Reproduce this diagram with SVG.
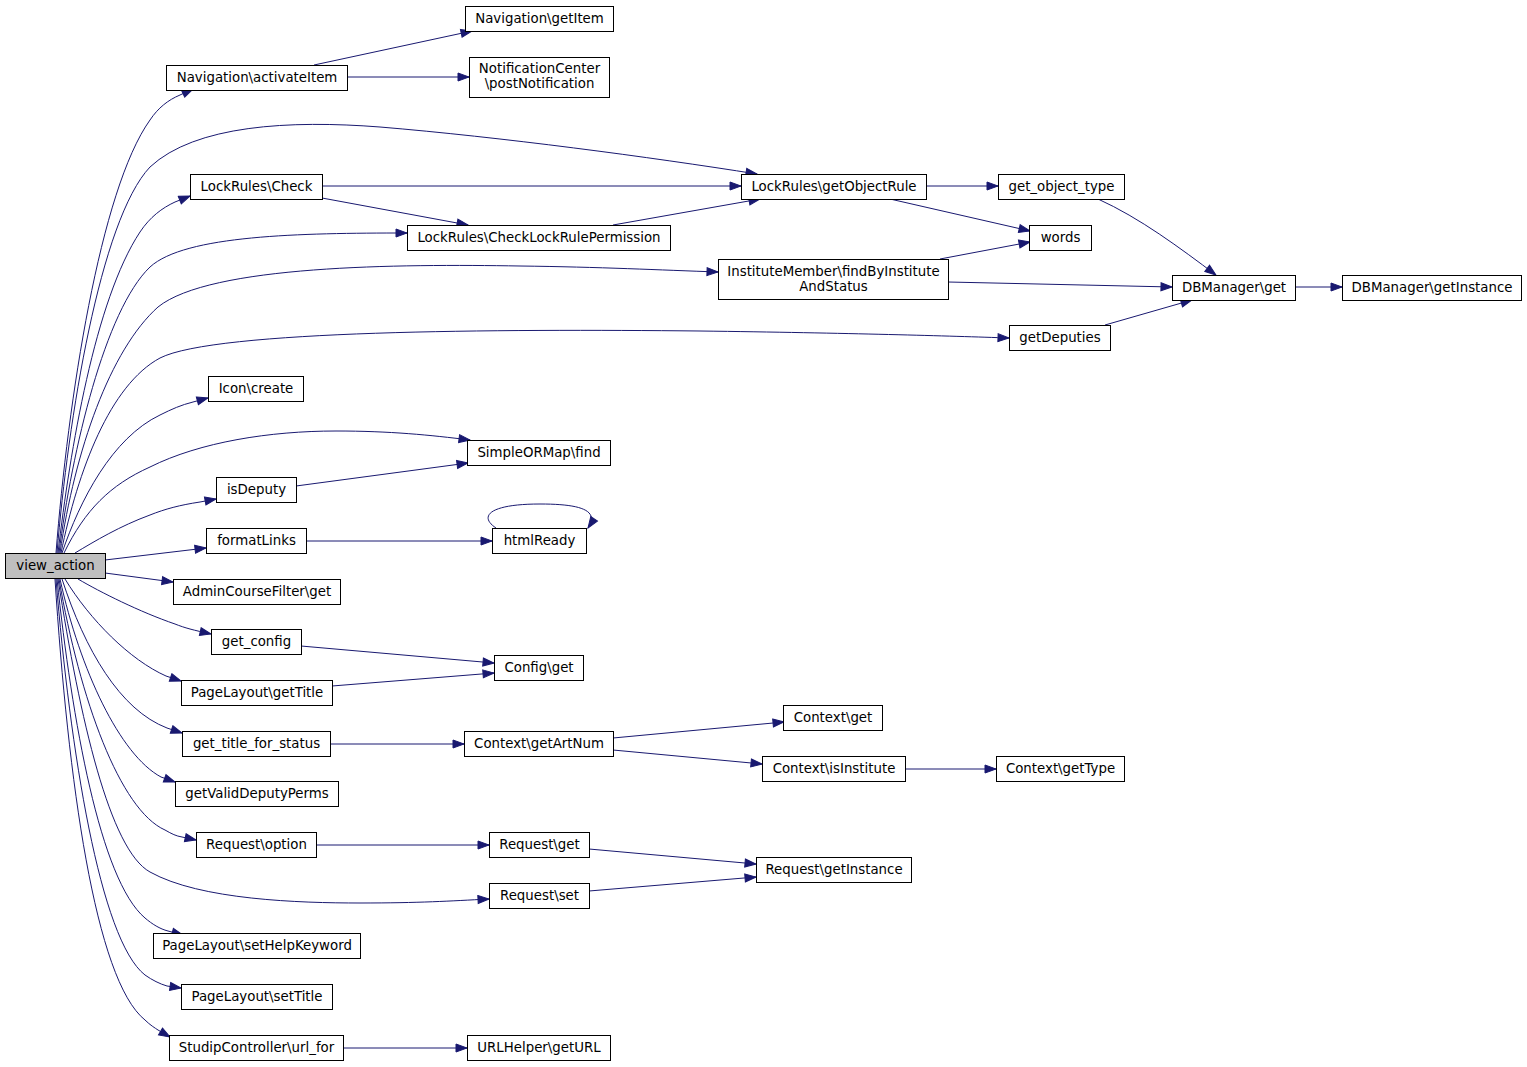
<svg xmlns="http://www.w3.org/2000/svg" width="1527" height="1067" viewBox="0 0 1527 1067">
<style>
.node rect{fill:#ffffff;stroke:#000000;stroke-width:1}
.node.root rect{fill:#bfbfbf}
.node text{font-family:"DejaVu Sans",sans-serif;font-size:13.33px;text-anchor:middle;fill:#000000}
.edges path{fill:none;stroke:#191970;stroke-width:1;marker-end:url(#arr)}
</style>
<defs>
<marker id="arr" markerUnits="userSpaceOnUse" markerWidth="12" markerHeight="9" refX="11" refY="4" orient="auto" overflow="visible">
<polygon points="0,0 11,4 0,8" fill="#191970" stroke="#191970" stroke-width="1"/>
</marker>
</defs>
<rect width="1527" height="1067" fill="#ffffff"/>
<g id="edges" class="edges">
<path d="M56,553 C68,400 100,190 150,120 C158,108 168,100 180,95 L193,89"/>
<path d="M57,553 C68,420 100,220 150,167 C195,125 290,120 380,127 C500,137 650,157 757,174"/>
<path d="M58,553 C70,450 95,300 140,232 C150,217 162,208 175,202 L190,196"/>
<path d="M59,553 C72,450 105,310 150,267 C185,235 300,233 407,233"/>
<path d="M60,553 C75,450 110,350 158,307 C210,265 400,264 520,266 C600,267 660,270 718,272"/>
<path d="M61,553 C78,470 110,385 160,358 C215,330 500,329 700,331 C850,333 950,336 1009,338"/>
<path d="M62,553 C80,500 112,438 160,415 C172,409 181,405 193,402 L208,398"/>
<path d="M64,553 C85,510 110,485 150,467 C200,442 270,431 336,431 C390,431 430,435 470,440"/>
<path d="M75,553 C95,541 120,526 150,515 C165,509 180,505 200,502 L216,499"/>
<path d="M105,560 L206,548"/>
<path d="M105,573 L173,582"/>
<path d="M78,579 C100,592 140,612 175,624 C185,628 193,630 211,634"/>
<path d="M65,579 C90,620 130,660 166,676 L181,681"/>
<path d="M62,579 C85,650 120,710 167,728 L182,733"/>
<path d="M60,579 C80,670 120,755 161,777 L175,782"/>
<path d="M59,579 C80,700 120,810 165,830 C172,834 176,836 182,837 L196,840"/>
<path d="M58,579 C80,720 110,850 150,872 C200,900 300,903 360,903 C420,903 450,901 489,899"/>
<path d="M57,579 C72,720 100,880 145,918 C152,924 160,929 168,931 L183,935"/>
<path d="M56,579 C70,750 100,940 145,975 C152,980 160,984 167,986 L181,988"/>
<path d="M55,579 C68,780 95,980 145,1020 C150,1025 155,1028 158,1030 L170,1037"/>
<path d="M314,65 L472,31"/>
<path d="M347,77 L469,77"/>
<path d="M322,186 L741,186"/>
<path d="M322,198 L468,225"/>
<path d="M613,225 L760,199"/>
<path d="M926,186 L998,186"/>
<path d="M890,199 L1030,231"/>
<path d="M1098,199 C1140,218 1180,248 1216,275"/>
<path d="M940,259 L1030,242"/>
<path d="M948,282 L1172,287"/>
<path d="M1105,325 L1192,300"/>
<path d="M1295,287 L1342,287"/>
<path d="M296,486 L468,463"/>
<path d="M306,541 L492,541"/>
<path d="M496,528 C478,516 490,504 540,504 C580,504 600,510 588,528"/>
<path d="M301,646 L494,663"/>
<path d="M332,686 L494,673"/>
<path d="M330,744 L464,744"/>
<path d="M613,738 L784,722"/>
<path d="M613,750 L762,764"/>
<path d="M905,769 L996,769"/>
<path d="M316,845 L489,845"/>
<path d="M589,849 L756,864"/>
<path d="M589,891 L756,877"/>
<path d="M343,1048 L467,1048"/>
</g>
<g id="n_view_action" class="node root"><rect x="5.5" y="553.5" width="100" height="25"/><text x="55.5" y="569.5">view_action</text></g>
<g id="n_activateItem" class="node"><rect x="166.5" y="65.5" width="181" height="25"/><text x="257" y="81.5">Navigation\activateItem</text></g>
<g id="n_getItem" class="node"><rect x="465.5" y="6.5" width="148" height="25"/><text x="539.5" y="22.5">Navigation\getItem</text></g>
<g id="n_postNotification" class="node"><rect x="469.5" y="57.5" width="140" height="40"/><text x="539.5" y="72.5">NotificationCenter</text><text x="539.5" y="87.5">\postNotification</text></g>
<g id="n_check" class="node"><rect x="190.5" y="174.5" width="132" height="25"/><text x="256.5" y="190.5">LockRules\Check</text></g>
<g id="n_getObjectRule" class="node"><rect x="741.5" y="174.5" width="185" height="25"/><text x="834" y="190.5">LockRules\getObjectRule</text></g>
<g id="n_checkLockRulePermission" class="node"><rect x="407.5" y="225.5" width="263" height="25"/><text x="539" y="241.5">LockRules\CheckLockRulePermission</text></g>
<g id="n_get_object_type" class="node"><rect x="998.5" y="174.5" width="126" height="25"/><text x="1061.5" y="190.5">get_object_type</text></g>
<g id="n_words" class="node"><rect x="1029.5" y="225.5" width="62" height="25"/><text x="1060.5" y="241.5">words</text></g>
<g id="n_instituteMember" class="node"><rect x="718.5" y="259.5" width="230" height="40"/><text x="833.5" y="275.5">InstituteMember\findByInstitute</text><text x="833.5" y="290.5">AndStatus</text></g>
<g id="n_dbget" class="node"><rect x="1172.5" y="275.5" width="123" height="25"/><text x="1234" y="291.5">DBManager\get</text></g>
<g id="n_dbgetInstance" class="node"><rect x="1342.5" y="275.5" width="179" height="25"/><text x="1432" y="291.5">DBManager\getInstance</text></g>
<g id="n_getDeputies" class="node"><rect x="1009.5" y="325.5" width="101" height="25"/><text x="1060" y="341.5">getDeputies</text></g>
<g id="n_iconCreate" class="node"><rect x="208.5" y="376.5" width="95" height="25"/><text x="256" y="392.5">Icon\create</text></g>
<g id="n_simpleORMapFind" class="node"><rect x="467.5" y="440.5" width="143" height="25"/><text x="539" y="456.5">SimpleORMap\find</text></g>
<g id="n_isDeputy" class="node"><rect x="216.5" y="477.5" width="80" height="25"/><text x="256.5" y="493.5">isDeputy</text></g>
<g id="n_formatLinks" class="node"><rect x="206.5" y="528.5" width="100" height="25"/><text x="256.5" y="544.5">formatLinks</text></g>
<g id="n_htmlReady" class="node"><rect x="492.5" y="528.5" width="94" height="25"/><text x="539.5" y="544.5">htmlReady</text></g>
<g id="n_adminCourseFilter" class="node"><rect x="173.5" y="579.5" width="167" height="25"/><text x="257" y="595.5">AdminCourseFilter\get</text></g>
<g id="n_get_config" class="node"><rect x="211.5" y="629.5" width="90" height="25"/><text x="256.5" y="645.5">get_config</text></g>
<g id="n_configGet" class="node"><rect x="494.5" y="655.5" width="89" height="25"/><text x="539" y="671.5">Config\get</text></g>
<g id="n_getTitle" class="node"><rect x="181.5" y="680.5" width="151" height="25"/><text x="257" y="696.5">PageLayout\getTitle</text></g>
<g id="n_get_title_for_status" class="node"><rect x="182.5" y="731.5" width="148" height="25"/><text x="256.5" y="747.5">get_title_for_status</text></g>
<g id="n_getArtNum" class="node"><rect x="464.5" y="731.5" width="149" height="25"/><text x="539" y="747.5">Context\getArtNum</text></g>
<g id="n_contextGet" class="node"><rect x="783.5" y="705.5" width="99" height="25"/><text x="833" y="721.5">Context\get</text></g>
<g id="n_isInstitute" class="node"><rect x="762.5" y="756.5" width="143" height="25"/><text x="834" y="772.5">Context\isInstitute</text></g>
<g id="n_getType" class="node"><rect x="996.5" y="756.5" width="128" height="25"/><text x="1060.5" y="772.5">Context\getType</text></g>
<g id="n_getValidDeputyPerms" class="node"><rect x="175.5" y="781.5" width="163" height="25"/><text x="257" y="797.5">getValidDeputyPerms</text></g>
<g id="n_requestOption" class="node"><rect x="196.5" y="832.5" width="120" height="25"/><text x="256.5" y="848.5">Request\option</text></g>
<g id="n_requestGet" class="node"><rect x="489.5" y="832.5" width="100" height="25"/><text x="539.5" y="848.5">Request\get</text></g>
<g id="n_requestGetInstance" class="node"><rect x="756.5" y="857.5" width="155" height="25"/><text x="834" y="873.5">Request\getInstance</text></g>
<g id="n_requestSet" class="node"><rect x="489.5" y="883.5" width="100" height="25"/><text x="539.5" y="899.5">Request\set</text></g>
<g id="n_setHelpKeyword" class="node"><rect x="153.5" y="933.5" width="207" height="25"/><text x="257" y="949.5">PageLayout\setHelpKeyword</text></g>
<g id="n_setTitle" class="node"><rect x="181.5" y="984.5" width="151" height="25"/><text x="257" y="1000.5">PageLayout\setTitle</text></g>
<g id="n_url_for" class="node"><rect x="169.5" y="1035.5" width="174" height="25"/><text x="256.5" y="1051.5">StudipController\url_for</text></g>
<g id="n_getURL" class="node"><rect x="467.5" y="1035.5" width="143" height="25"/><text x="539" y="1051.5">URLHelper\getURL</text></g>
</svg>
